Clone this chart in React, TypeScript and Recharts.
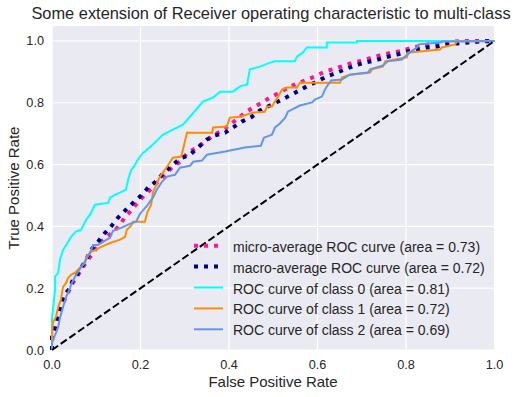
import React from 'react';
import { LineChart, Line, XAxis, YAxis, CartesianGrid, Legend } from 'recharts';

const FONT = '"Liberation Sans", Arial, Helvetica, sans-serif';
const TEXT = '#262626';

const axisTicks = [0, 0.2, 0.4, 0.6, 0.8, 1.0];

const microFpr = [0,0,0.007,0.014,0.02,0.032,0.041,0.047,0.059,0.07,0.081,0.093,0.108,0.122,0.138,0.154,0.165,0.181,0.194,0.21,0.226,0.244,0.255,0.273,0.289,0.307,0.328,0.346,0.364,0.384,0.402,0.42,0.436,0.454,0.475,0.493,0.515,0.533,0.554,0.576,0.594,0.617,0.64,0.662,0.68,0.703,0.725,0.748,0.771,0.793,0.816,0.838,0.861,0.884,0.906,0.938,1];
const microTpr = [0,0.032,0.065,0.107,0.139,0.172,0.201,0.217,0.243,0.269,0.292,0.314,0.347,0.363,0.382,0.405,0.431,0.454,0.48,0.502,0.525,0.551,0.567,0.593,0.609,0.639,0.655,0.674,0.694,0.71,0.729,0.749,0.768,0.784,0.801,0.817,0.833,0.849,0.862,0.875,0.885,0.901,0.911,0.921,0.93,0.937,0.947,0.956,0.963,0.969,0.979,0.985,0.992,0.995,0.998,1,1];

const macroFpr = [0,0,0.007,0.014,0.025,0.032,0.041,0.047,0.054,0.066,0.077,0.088,0.104,0.12,0.131,0.149,0.165,0.183,0.203,0.217,0.237,0.251,0.271,0.289,0.312,0.33,0.35,0.368,0.391,0.409,0.429,0.452,0.47,0.488,0.511,0.533,0.554,0.576,0.599,0.621,0.64,0.662,0.685,0.707,0.73,0.753,0.78,0.802,0.825,0.847,0.87,0.893,0.915,0.94,0.967,1];
const macroTpr = [0,0.042,0.075,0.107,0.162,0.185,0.201,0.227,0.237,0.266,0.292,0.324,0.35,0.379,0.395,0.428,0.451,0.476,0.502,0.525,0.548,0.571,0.596,0.619,0.632,0.655,0.681,0.694,0.703,0.72,0.739,0.755,0.775,0.788,0.804,0.82,0.836,0.853,0.869,0.885,0.895,0.908,0.921,0.93,0.937,0.947,0.956,0.966,0.972,0.979,0.982,0.989,0.992,0.995,0.998,1];

const class0Fpr = [0,0,0.002,0.007,0.007,0.014,0.018,0.025,0.032,0.043,0.054,0.066,0.077,0.086,0.097,0.127,0.131,0.142,0.154,0.167,0.172,0.179,0.185,0.194,0.206,0.21,0.228,0.251,0.273,0.296,0.316,0.341,0.364,0.38,0.409,0.425,0.441,0.447,0.47,0.493,0.504,0.549,0.554,0.567,0.576,0.621,0.621,0.689,0.689,1];
const class0Tpr = [0,0.104,0.13,0.195,0.237,0.25,0.292,0.324,0.34,0.366,0.383,0.389,0.421,0.438,0.47,0.476,0.493,0.502,0.509,0.519,0.551,0.583,0.593,0.616,0.639,0.642,0.665,0.697,0.713,0.729,0.762,0.804,0.817,0.836,0.836,0.853,0.859,0.908,0.917,0.93,0.934,0.934,0.95,0.963,0.979,0.979,0.995,0.995,1,1];

const class1Fpr = [0,0,0.002,0.009,0.014,0.02,0.025,0.032,0.036,0.043,0.052,0.063,0.075,0.077,0.088,0.099,0.111,0.133,0.154,0.165,0.169,0.179,0.183,0.21,0.215,0.224,0.228,0.235,0.244,0.26,0.273,0.292,0.298,0.305,0.362,0.364,0.395,0.402,0.425,0.454,0.481,0.486,0.497,0.504,0.511,0.52,0.531,0.554,0.56,0.651,0.655,0.673,0.719,0.723,0.748,0.753,0.802,0.805,0.832,0.877,0.881,0.911,0.915,1];
const class1Tpr = [0,0.042,0.088,0.107,0.139,0.162,0.204,0.217,0.233,0.243,0.25,0.266,0.282,0.301,0.318,0.324,0.334,0.347,0.357,0.366,0.389,0.402,0.415,0.415,0.444,0.47,0.509,0.532,0.561,0.593,0.622,0.626,0.661,0.703,0.703,0.72,0.723,0.752,0.755,0.768,0.771,0.788,0.788,0.804,0.82,0.843,0.849,0.849,0.865,0.865,0.882,0.891,0.898,0.908,0.917,0.934,0.947,0.963,0.966,0.972,0.979,0.989,0.998,1];

const class2Fpr = [0,0,0.002,0.009,0.014,0.018,0.025,0.032,0.041,0.043,0.052,0.059,0.066,0.077,0.086,0.093,0.104,0.111,0.131,0.138,0.156,0.176,0.19,0.199,0.215,0.228,0.237,0.249,0.26,0.278,0.289,0.312,0.319,0.339,0.35,0.391,0.436,0.472,0.479,0.497,0.504,0.515,0.527,0.533,0.56,0.588,0.594,0.61,0.617,0.624,0.631,0.655,0.673,0.714,0.719,0.748,0.759,0.791,0.798,0.809,0.825,0.829,0.877,0.884,1];
const class2Tpr = [0,0.023,0.032,0.055,0.075,0.104,0.139,0.172,0.201,0.211,0.237,0.253,0.269,0.292,0.314,0.34,0.34,0.347,0.363,0.386,0.395,0.408,0.415,0.441,0.467,0.493,0.519,0.545,0.561,0.567,0.59,0.596,0.609,0.613,0.632,0.642,0.655,0.661,0.687,0.697,0.72,0.733,0.752,0.771,0.791,0.801,0.81,0.82,0.843,0.859,0.872,0.875,0.891,0.898,0.908,0.921,0.934,0.94,0.95,0.963,0.979,0.989,0.995,0.998,1];

const chanceFpr = [0, 1];
const chanceTpr = [0, 1];

const seriesNames = [
  'micro-average ROC curve (area = 0.73)',
  'macro-average ROC curve (area = 0.72)',
  'ROC curve of class 0 (area = 0.81)',
  'ROC curve of class 1 (area = 0.72)',
  'ROC curve of class 2 (area = 0.69)',
];

const zip = (f: number[], t: number[]) => f.map((x, i) => ({ x, y: t[i] }));

const series = [
  { name: seriesNames[0], data: zip(microFpr, microTpr), color: '#FF1493', width: 4, dash: '4 6' },
  { name: seriesNames[1], data: zip(macroFpr, macroTpr), color: '#000080', width: 4, dash: '4 6' },
  { name: seriesNames[2], data: zip(class0Fpr, class0Tpr), color: '#00FFFF', width: 2, dash: undefined },
  { name: seriesNames[3], data: zip(class1Fpr, class1Tpr), color: '#FF8C00', width: 2, dash: undefined },
  { name: seriesNames[4], data: zip(class2Fpr, class2Tpr), color: '#6495ED', width: 2, dash: undefined },
];

const chance = zip(chanceFpr, chanceTpr);

const renderLegend = () => (
  <svg width={320} height={110} style={{ display: 'block', overflow: 'visible' }}>
    {series.map((s, i) => {
      const y = 11.7 + i * 20.9;
      return (
        <g key={s.name}>
          <line x1={9} x2={38} y1={y} y2={y} stroke={s.color} strokeWidth={s.width} strokeDasharray={s.dash} />
          <text x={48} y={y + 1} dy="0.36em" fontSize={14} fill={TEXT} fontFamily={FONT}>{s.name}</text>
        </g>
      );
    })}
  </svg>
);

const fmt = (v: number) => v.toFixed(1);

export default function App() {
  return (
    <div style={{ position: 'absolute', left: 0, top: 0, width: 527, height: 397, fontFamily: FONT, background: '#fff' }}>
      <LineChart width={527} height={397} margin={{ top: 25.5, right: 32.5, bottom: 0, left: 0 }}>
        <CartesianGrid fill="#EAEAF2" stroke="#FFFFFF" strokeWidth={1.2} />
        <XAxis
          type="number"
          dataKey="x"
          domain={[0, 1]}
          ticks={axisTicks}
          tickFormatter={fmt}
          height={47}
          axisLine={false}
          tickLine={false}
          tickSize={6}
          tickMargin={4}
          tick={{ fill: TEXT, fontSize: 12.7, fontFamily: FONT }}
        />
        <YAxis
          type="number"
          domain={[0, 1.05]}
          ticks={axisTicks}
          tickFormatter={fmt}
          width={52}
          axisLine={false}
          tickLine={false}
          tickSize={6}
          tickMargin={2}
          tick={{ fill: TEXT, fontSize: 12.7, fontFamily: FONT }}
        />
        {series.map((s) => (
          <Line
            key={s.name}
            name={s.name}
            data={s.data}
            dataKey="y"
            type="linear"
            stroke={s.color}
            strokeWidth={s.width}
            strokeDasharray={s.dash}
            dot={false}
            activeDot={false}
            isAnimationActive={false}
          />
        ))}
        <Line
          name="chance"
          data={chance}
          dataKey="y"
          type="linear"
          stroke="#000000"
          strokeWidth={2}
          strokeDasharray="7.4 3.2"
          dot={false}
          activeDot={false}
          legendType="none"
          isAnimationActive={false}
        />
        <Legend
          content={renderLegend}
          layout="vertical"
          align="center"
          verticalAlign="middle"
          wrapperStyle={{ left: 185, top: 234, width: 320, height: 110 }}
        />
      </LineChart>
      <svg width={527} height={397} style={{ position: 'absolute', left: 0, top: 0, pointerEvents: 'none' }}>
        <text x={271} y={18.5} textAnchor="middle" fontSize={16.4} fill={TEXT} fontFamily={FONT}>
          Some extension of Receiver operating characteristic to multi-class
        </text>
        <text x={273} y={386.5} textAnchor="middle" fontSize={15} fill={TEXT} fontFamily={FONT}>
          False Positive Rate
        </text>
        <text x={19} y={188} textAnchor="middle" fontSize={15} fill={TEXT} fontFamily={FONT} transform="rotate(-90 19 188)">
          True Positive Rate
        </text>
      </svg>
    </div>
  );
}
